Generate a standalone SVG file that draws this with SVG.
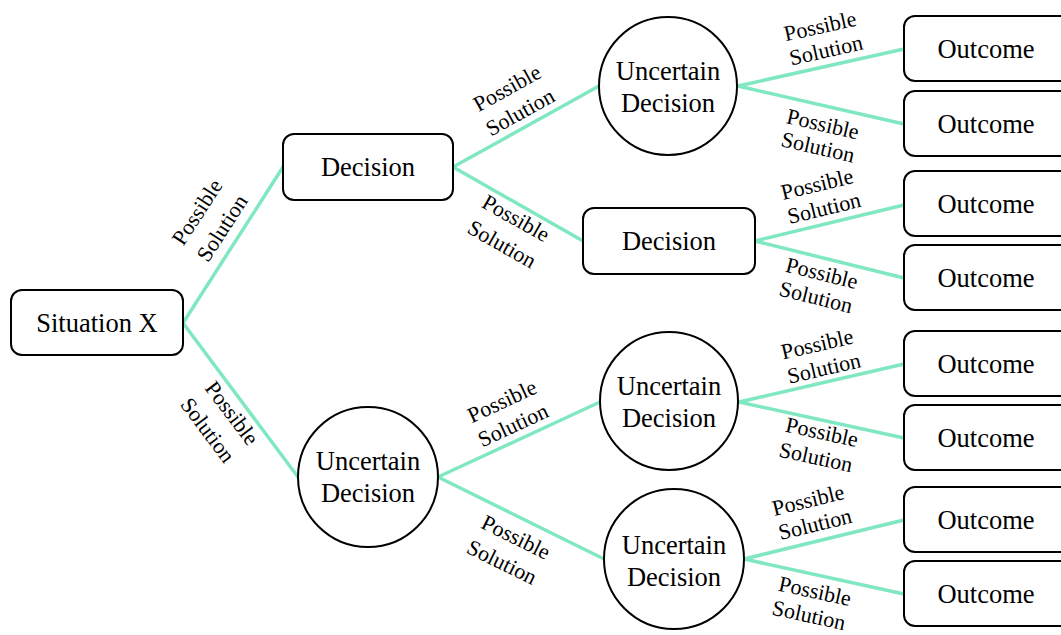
<svg xmlns="http://www.w3.org/2000/svg" width="1061" height="635" viewBox="0 0 1061 635">
  <style>
    .box { fill: #ffffff; stroke: #000000; stroke-width: 2; }
    .node { font-family: 'Liberation Serif', 'Noto Serif', 'DejaVu Serif', serif; font-size: 26.5px; fill: #000000; text-anchor: middle; dominant-baseline: central; }
    .edge { stroke: #80e8c0; stroke-width: 3.5; fill: none; stroke-linecap: round; }
    .lbl { font-family: 'Liberation Serif', 'Noto Serif', 'DejaVu Serif', serif; font-size: 22px; fill: #000000; text-anchor: middle; dominant-baseline: central; }
  </style>
  <rect width="1061" height="635" fill="#ffffff"/>

  <!-- connectors -->
  <g id="connectors">
    <line class="edge" x1="183" y1="323" x2="283" y2="167"/>
    <line class="edge" x1="183" y1="323" x2="298" y2="477"/>
    <line class="edge" x1="453" y1="167" x2="599" y2="86"/>
    <line class="edge" x1="453" y1="167" x2="583" y2="241"/>
    <line class="edge" x1="738" y1="86" x2="904" y2="49"/>
    <line class="edge" x1="738" y1="86" x2="904" y2="124"/>
    <line class="edge" x1="755" y1="241" x2="904" y2="205"/>
    <line class="edge" x1="755" y1="241" x2="904" y2="278"/>
    <line class="edge" x1="438" y1="477" x2="600" y2="402"/>
    <line class="edge" x1="438" y1="477" x2="604" y2="559"/>
    <line class="edge" x1="739" y1="402" x2="904" y2="364"/>
    <line class="edge" x1="739" y1="402" x2="904" y2="438"/>
    <line class="edge" x1="744" y1="559" x2="904" y2="520"/>
    <line class="edge" x1="744" y1="559" x2="904" y2="594"/>

    <!-- edge labels: two lines each, turned to follow their branch -->
    <text class="lbl" transform="translate(197,212) rotate(-57)">Possible</text>
    <text class="lbl" transform="translate(222,228) rotate(-57)">Solution</text>
    <text class="lbl" transform="translate(232,413) rotate(53)">Possible</text>
    <text class="lbl" transform="translate(208,430) rotate(53)">Solution</text>
    <text class="lbl" transform="translate(507,88) rotate(-29)">Possible</text>
    <text class="lbl" transform="translate(520,112) rotate(-29)">Solution</text>
    <text class="lbl" transform="translate(516,218) rotate(29.6)">Possible</text>
    <text class="lbl" transform="translate(502,244) rotate(29.6)">Solution</text>
    <text class="lbl" transform="translate(820,26) rotate(-12.6)">Possible</text>
    <text class="lbl" transform="translate(826,50) rotate(-12.6)">Solution</text>
    <text class="lbl" transform="translate(823,124) rotate(12.9)">Possible</text>
    <text class="lbl" transform="translate(818,147) rotate(12.9)">Solution</text>
    <text class="lbl" transform="translate(817,184) rotate(-13.6)">Possible</text>
    <text class="lbl" transform="translate(824,208) rotate(-13.6)">Solution</text>
    <text class="lbl" transform="translate(822,273) rotate(14)">Possible</text>
    <text class="lbl" transform="translate(816,297) rotate(14)">Solution</text>
    <text class="lbl" transform="translate(502,401) rotate(-24.8)">Possible</text>
    <text class="lbl" transform="translate(513,425) rotate(-24.8)">Solution</text>
    <text class="lbl" transform="translate(516,537) rotate(26.3)">Possible</text>
    <text class="lbl" transform="translate(502,562) rotate(26.3)">Solution</text>
    <text class="lbl" transform="translate(817,344) rotate(-13)">Possible</text>
    <text class="lbl" transform="translate(824,368) rotate(-13)">Solution</text>
    <text class="lbl" transform="translate(822,432) rotate(12.3)">Possible</text>
    <text class="lbl" transform="translate(816,457) rotate(12.3)">Solution</text>
    <text class="lbl" transform="translate(808,500) rotate(-13.7)">Possible</text>
    <text class="lbl" transform="translate(815,524) rotate(-13.7)">Solution</text>
    <text class="lbl" transform="translate(815,591) rotate(12.3)">Possible</text>
    <text class="lbl" transform="translate(809,615) rotate(12.3)">Solution</text>
  </g>

  <!-- nodes -->
  <g id="situation">
    <rect class="box" x="11" y="290" width="172" height="65" rx="11"/>
    <text class="node" x="97" y="323">Situation X</text>
  </g>
  <g id="decision-1">
    <rect class="box" x="283" y="134" width="170" height="66" rx="11"/>
    <text class="node" x="368" y="167">Decision</text>
  </g>
  <g id="decision-2">
    <rect class="box" x="583" y="208" width="172" height="66" rx="11"/>
    <text class="node" x="669" y="241">Decision</text>
  </g>
  <g id="uncertain-1">
    <circle class="box" cx="668" cy="86" r="69"/>
    <text class="node" x="668" y="71">Uncertain</text>
    <text class="node" x="668" y="103">Decision</text>
  </g>
  <g id="uncertain-2">
    <circle class="box" cx="368" cy="477" r="70"/>
    <text class="node" x="368" y="461">Uncertain</text>
    <text class="node" x="368" y="493">Decision</text>
  </g>
  <g id="uncertain-3">
    <circle class="box" cx="669" cy="401" r="69"/>
    <text class="node" x="669" y="386">Uncertain</text>
    <text class="node" x="669" y="418">Decision</text>
  </g>
  <g id="uncertain-4">
    <circle class="box" cx="674" cy="559" r="70"/>
    <text class="node" x="674" y="545">Uncertain</text>
    <text class="node" x="674" y="577">Decision</text>
  </g>

  <g id="outcome-1">
    <rect class="box" x="904" y="16" width="170" height="65" rx="11"/>
    <text class="node" x="986" y="49">Outcome</text>
  </g>
  <g id="outcome-2">
    <rect class="box" x="904" y="91" width="170" height="65" rx="11"/>
    <text class="node" x="986" y="124">Outcome</text>
  </g>
  <g id="outcome-3">
    <rect class="box" x="904" y="171" width="170" height="65" rx="11"/>
    <text class="node" x="986" y="204">Outcome</text>
  </g>
  <g id="outcome-4">
    <rect class="box" x="904" y="245" width="170" height="65" rx="11"/>
    <text class="node" x="986" y="278">Outcome</text>
  </g>
  <g id="outcome-5">
    <rect class="box" x="904" y="331" width="170" height="65" rx="11"/>
    <text class="node" x="986" y="364">Outcome</text>
  </g>
  <g id="outcome-6">
    <rect class="box" x="904" y="405" width="170" height="65" rx="11"/>
    <text class="node" x="986" y="438">Outcome</text>
  </g>
  <g id="outcome-7">
    <rect class="box" x="904" y="487" width="170" height="65" rx="11"/>
    <text class="node" x="986" y="520">Outcome</text>
  </g>
  <g id="outcome-8">
    <rect class="box" x="904" y="561" width="170" height="65" rx="11"/>
    <text class="node" x="986" y="594">Outcome</text>
  </g>
</svg>
